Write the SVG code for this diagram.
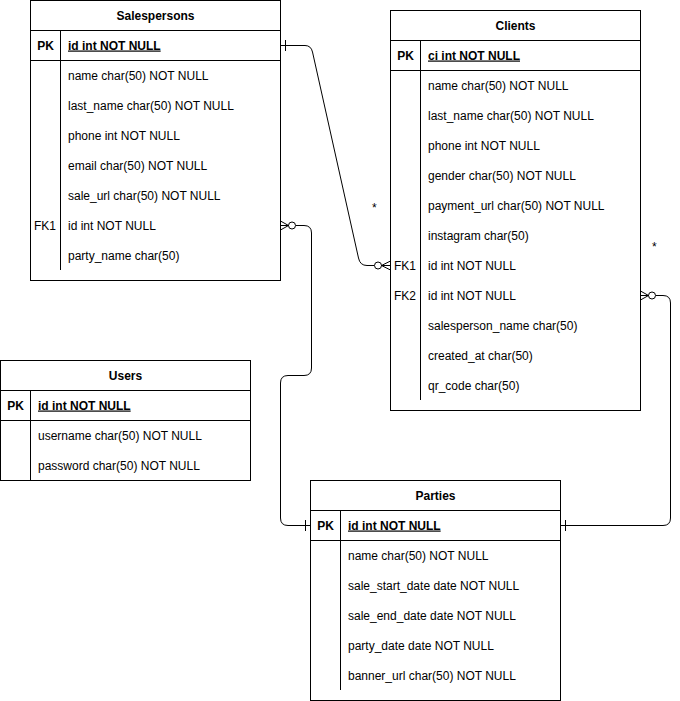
<svg xmlns="http://www.w3.org/2000/svg" width="680" height="701" viewBox="0 0 680 701">
<style>
.box{fill:#fff;stroke:#000;stroke-width:1}
.ln{stroke:#000;stroke-width:1;fill:none}
.t{font-family:"Liberation Sans",Arial,sans-serif;font-size:12px;fill:#000}
.h{font-weight:bold;text-anchor:middle}
.pk{font-weight:bold;text-decoration:underline}
.k{text-anchor:middle}
.c{stroke:#000;stroke-width:1;fill:none}
.o{stroke:#000;stroke-width:1;fill:#fff}
</style>
<rect width="680" height="701" fill="#fff"/>

<g id="salespersons">
<rect class="box" x="30.5" y="0.5" width="250" height="280"/>
<line class="ln" x1="30.5" y1="30.5" x2="280.5" y2="30.5"/>
<line class="ln" x1="30.5" y1="60.5" x2="280.5" y2="60.5"/>
<line class="ln" x1="60.5" y1="30.5" x2="60.5" y2="270"/>
<text class="t h" x="155.5" y="19.5">Salespersons</text>
<text class="t k" x="45.5" y="49.5" font-weight="bold">PK</text>
<text class="t pk" x="68" y="49.5">id int NOT NULL</text>
<text class="t" x="68" y="79.5">name char(50) NOT NULL</text>
<text class="t" x="68" y="109.5">last_name char(50) NOT NULL</text>
<text class="t" x="68" y="139.5">phone int NOT NULL</text>
<text class="t" x="68" y="169.5">email char(50) NOT NULL</text>
<text class="t" x="68" y="199.5">sale_url char(50) NOT NULL</text>
<text class="t k" x="45" y="229.5">FK1</text>
<text class="t" x="68" y="229.5">id int NOT NULL</text>
<text class="t" x="68" y="259.5">party_name char(50)</text>
</g>

<g id="clients">
<rect class="box" x="390.5" y="10.5" width="250" height="400"/>
<line class="ln" x1="390.5" y1="40.5" x2="640.5" y2="40.5"/>
<line class="ln" x1="390.5" y1="70.5" x2="640.5" y2="70.5"/>
<line class="ln" x1="420.5" y1="40.5" x2="420.5" y2="400"/>
<text class="t h" x="515.5" y="29.5">Clients</text>
<text class="t k" x="405.5" y="59.5" font-weight="bold">PK</text>
<text class="t pk" x="428" y="59.5">ci int NOT NULL</text>
<text class="t" x="428" y="89.5">name char(50) NOT NULL</text>
<text class="t" x="428" y="119.5">last_name char(50) NOT NULL</text>
<text class="t" x="428" y="149.5">phone int NOT NULL</text>
<text class="t" x="428" y="179.5">gender char(50) NOT NULL</text>
<text class="t" x="428" y="209.5">payment_url char(50) NOT NULL</text>
<text class="t" x="428" y="239.5">instagram char(50)</text>
<text class="t k" x="405" y="269.5">FK1</text>
<text class="t" x="428" y="269.5">id int NOT NULL</text>
<text class="t k" x="405" y="299.5">FK2</text>
<text class="t" x="428" y="299.5">id int NOT NULL</text>
<text class="t" x="428" y="329.5">salesperson_name char(50)</text>
<text class="t" x="428" y="359.5">created_at char(50)</text>
<text class="t" x="428" y="389.5">qr_code char(50)</text>
</g>

<g id="users">
<rect class="box" x="0.5" y="360.5" width="250" height="120"/>
<line class="ln" x1="0.5" y1="390.5" x2="250.5" y2="390.5"/>
<line class="ln" x1="0.5" y1="420.5" x2="250.5" y2="420.5"/>
<line class="ln" x1="30.5" y1="390.5" x2="30.5" y2="480.5"/>
<text class="t h" x="125.5" y="379.5">Users</text>
<text class="t k" x="15.5" y="409.5" font-weight="bold">PK</text>
<text class="t pk" x="38" y="409.5">id int NOT NULL</text>
<text class="t" x="38" y="439.5">username char(50) NOT NULL</text>
<text class="t" x="38" y="469.5">password char(50) NOT NULL</text>
</g>

<g id="parties">
<rect class="box" x="310.5" y="480.5" width="250" height="220"/>
<line class="ln" x1="310.5" y1="510.5" x2="560.5" y2="510.5"/>
<line class="ln" x1="310.5" y1="540.5" x2="560.5" y2="540.5"/>
<line class="ln" x1="340.5" y1="510.5" x2="340.5" y2="690"/>
<text class="t h" x="435.5" y="499.5">Parties</text>
<text class="t k" x="325.5" y="529.5" font-weight="bold">PK</text>
<text class="t pk" x="348" y="529.5">id int NOT NULL</text>
<text class="t" x="348" y="559.5">name char(50) NOT NULL</text>
<text class="t" x="348" y="589.5">sale_start_date date NOT NULL</text>
<text class="t" x="348" y="619.5">sale_end_date date NOT NULL</text>
<text class="t" x="348" y="649.5">party_date date NOT NULL</text>
<text class="t" x="348" y="679.5">banner_url char(50) NOT NULL</text>
</g>

<g id="connectors">
<!-- Salespersons.id -> Clients.FK1 -->
<path class="c" d="M280.5,45.5 L305,45.5 Q311,45.5 312.5,52 L358.5,258 Q360,265.5 367,265.5 L374.5,265.5"/>
<line class="c" x1="285.5" y1="40" x2="285.5" y2="51"/>
<circle class="o" cx="378" cy="265.5" r="3.5"/>
<path class="c" d="M381.5,265.5 L390.5,261 M381.5,265.5 L390.5,265.5 M381.5,265.5 L390.5,270"/>
<text class="t" x="372" y="212" fill="#333">*</text>

<!-- Salespersons.FK1 -> Parties.id -->
<path class="c" d="M295.5,225.5 L304,225.5 Q311.5,225.5 311.5,233 L311.5,368 Q311.5,375.5 304,375.5 L288,375.5 Q280.5,375.5 280.5,383 L280.5,518 Q280.5,525.5 288,525.5 L310.5,525.5"/>
<line class="c" x1="305.5" y1="520" x2="305.5" y2="531"/>
<circle class="o" cx="292" cy="225.5" r="3.5"/>
<path class="c" d="M288.5,225.5 L280.5,221 M288.5,225.5 L280.5,225.5 M288.5,225.5 L280.5,230"/>

<!-- Clients.FK2 -> Parties.id -->
<path class="c" d="M655.5,295.5 L663,295.5 Q670.5,295.5 670.5,303 L670.5,518 Q670.5,525.5 663,525.5 L560.5,525.5"/>
<line class="c" x1="565.5" y1="520" x2="565.5" y2="531"/>
<circle class="o" cx="652" cy="295.5" r="3.5"/>
<path class="c" d="M648.5,295.5 L640.5,291 M648.5,295.5 L640.5,295.5 M648.5,295.5 L640.5,300"/>
<text class="t" x="652" y="251" fill="#333">*</text>
</g>
</svg>
